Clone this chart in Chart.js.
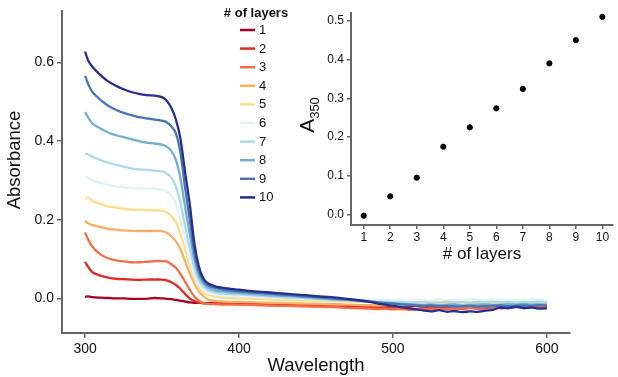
<!DOCTYPE html>
<html>
<head>
<meta charset="utf-8">
<script src="https://cdn.jsdelivr.net/npm/chart.js@4"></script>
<style>
  body { margin: 0; background: #fff; }
  #wrap { position: relative; width: 618px; height: 377px; }
  #main { position: absolute; left: 0; top: 0; }
  #inset { position: absolute; left: 290px; top: 0; }
</style>
</head>
<body>
<div id="wrap">
  <canvas id="main" width="618" height="377"></canvas>
  <canvas id="inset" width="328" height="270"></canvas>
</div>
<script>
// wavelengths (nm)
const wavelengths = [300,302,305,310,315,320,325,330,335,340,345,350,353,356,359,362,365,368,371,374,377,380,385,390,395,400,
  410,420,430,440,450,460,470,480,
  485,490,495,500,505,510,515,520,525,530,535,540,545,550,555,560,565,570,575,580,585,590,595,600];

// absorbance spectra, one per number of layers
const layer1 = [0.004,0.005,0.003,0.002,0.001,0.000,0.000,-0.001,-0.001,-0.001,0.001,0.000,-0.001,-0.002,-0.004,-0.006,-0.008,-0.010,-0.011,-0.011,-0.012,-0.012,-0.012,-0.013,-0.013,-0.013,
  -0.014,-0.014,-0.015,-0.015,-0.016,-0.016,-0.017,-0.018,
  -0.018,-0.019,-0.018,-0.020,-0.019,-0.020,-0.019,-0.021,-0.020,-0.019,-0.021,-0.020,-0.019,-0.020,-0.021,-0.019,-0.020,-0.019,-0.021,-0.020,-0.019,-0.020,-0.021,-0.020];
const layer2 = [0.093,0.080,0.066,0.058,0.053,0.050,0.049,0.048,0.047,0.048,0.048,0.048,0.046,0.041,0.034,0.024,0.011,0.000,-0.007,-0.011,-0.012,-0.013,-0.013,-0.014,-0.014,-0.015,
  -0.016,-0.017,-0.018,-0.019,-0.020,-0.021,-0.022,-0.023,
  -0.024,-0.025,-0.024,-0.026,-0.025,-0.026,-0.027,-0.025,-0.026,-0.024,-0.026,-0.025,-0.027,-0.024,-0.026,-0.025,-0.023,-0.025,-0.024,-0.022,-0.024,-0.023,-0.022,-0.023];
const layer3 = [0.168,0.150,0.130,0.112,0.102,0.097,0.094,0.092,0.092,0.093,0.095,0.095,0.094,0.087,0.078,0.062,0.042,0.022,0.005,-0.006,-0.012,-0.014,-0.015,-0.016,-0.016,-0.016,
  -0.017,-0.018,-0.019,-0.020,-0.021,-0.022,-0.024,-0.025,
  -0.026,-0.027,-0.026,-0.028,-0.027,-0.029,-0.028,-0.027,-0.028,-0.026,-0.027,-0.025,-0.026,-0.024,-0.025,-0.023,-0.024,-0.022,-0.023,-0.021,-0.022,-0.020,-0.021,-0.020];
const layer4 = [0.197,0.191,0.186,0.182,0.177,0.175,0.173,0.172,0.171,0.171,0.172,0.171,0.167,0.158,0.145,0.124,0.094,0.064,0.038,0.017,0.005,-0.003,-0.007,-0.008,-0.009,-0.009,
  -0.010,-0.011,-0.012,-0.013,-0.014,-0.015,-0.016,-0.017,
  -0.017,-0.018,-0.017,-0.019,-0.018,-0.017,-0.016,-0.015,-0.014,-0.013,-0.012,-0.013,-0.011,-0.012,-0.010,-0.011,-0.012,-0.010,-0.011,-0.009,-0.012,-0.010,-0.011,-0.010];
const layer5 = [0.252,0.256,0.247,0.240,0.234,0.231,0.228,0.226,0.225,0.225,0.224,0.223,0.219,0.210,0.194,0.164,0.124,0.084,0.049,0.027,0.014,0.008,0.004,0.002,0.001,0.000,
  -0.001,-0.003,-0.004,-0.005,-0.006,-0.007,-0.008,-0.009,
  -0.009,-0.010,-0.009,-0.011,-0.010,-0.009,-0.011,-0.010,-0.009,-0.011,-0.010,-0.009,-0.011,-0.010,-0.008,-0.010,-0.011,-0.009,-0.010,-0.008,-0.011,-0.009,-0.010,-0.009];
const layer6 = [0.310,0.306,0.300,0.294,0.289,0.285,0.283,0.281,0.280,0.279,0.279,0.276,0.272,0.262,0.240,0.200,0.150,0.100,0.060,0.034,0.021,0.015,0.010,0.008,0.007,0.006,
  0.004,0.002,0.001,-0.001,-0.002,-0.003,-0.004,-0.004,
  -0.003,-0.005,-0.002,-0.006,-0.003,-0.005,-0.002,-0.004,-0.006,-0.002,-0.005,-0.003,-0.006,-0.002,-0.004,-0.005,-0.002,-0.004,-0.006,-0.003,-0.005,-0.002,-0.004,-0.005];
const layer7 = [0.369,0.366,0.360,0.352,0.345,0.340,0.335,0.331,0.328,0.327,0.325,0.323,0.318,0.307,0.284,0.243,0.183,0.128,0.078,0.045,0.029,0.021,0.015,0.012,0.011,0.010,
  0.008,0.005,0.003,0.001,-0.001,-0.003,-0.005,-0.006,
  -0.007,-0.009,-0.008,-0.010,-0.009,-0.011,-0.010,-0.009,-0.011,-0.010,-0.008,-0.010,-0.009,-0.011,-0.009,-0.010,-0.008,-0.010,-0.009,-0.011,-0.009,-0.010,-0.008,-0.010];
const layer8 = [0.474,0.460,0.444,0.432,0.422,0.415,0.410,0.405,0.400,0.396,0.394,0.391,0.386,0.375,0.352,0.305,0.232,0.163,0.098,0.057,0.037,0.027,0.020,0.017,0.015,0.014,
  0.011,0.008,0.006,0.004,0.001,-0.002,-0.004,-0.007,
  -0.008,-0.010,-0.011,-0.013,-0.014,-0.015,-0.016,-0.017,-0.016,-0.018,-0.017,-0.016,-0.018,-0.017,-0.016,-0.015,-0.017,-0.016,-0.015,-0.016,-0.014,-0.016,-0.015,-0.016];
const layer9 = [0.566,0.545,0.524,0.505,0.490,0.480,0.472,0.466,0.461,0.458,0.455,0.452,0.448,0.438,0.420,0.370,0.280,0.200,0.115,0.068,0.044,0.033,0.026,0.022,0.020,0.018,
  0.015,0.012,0.009,0.006,0.003,0.000,-0.003,-0.006,
  -0.008,-0.010,-0.012,-0.013,-0.015,-0.016,-0.018,-0.019,-0.018,-0.020,-0.019,-0.021,-0.020,-0.019,-0.021,-0.020,-0.019,-0.018,-0.020,-0.019,-0.018,-0.019,-0.017,-0.018];
const layer10 = [0.628,0.605,0.588,0.568,0.552,0.541,0.532,0.525,0.520,0.517,0.516,0.512,0.503,0.485,0.455,0.405,0.320,0.240,0.140,0.080,0.050,0.038,0.030,0.027,0.024,0.022,
  0.018,0.015,0.012,0.009,0.006,0.003,-0.001,-0.006,
  -0.009,-0.013,-0.016,-0.019,-0.022,-0.025,-0.028,-0.031,-0.033,-0.030,-0.034,-0.032,-0.035,-0.033,-0.034,-0.031,-0.029,-0.023,-0.025,-0.021,-0.025,-0.023,-0.026,-0.025];

const layerNames = ["1","2","3","4","5","6","7","8","9","10"];
const layerColors = ["#a50026","#dd2a22","#f46d43","#fdae61","#fedf88","#e0f3f8","#abd9e9","#74add1","#4575b4","#262f8e"];
const spectra = [layer1, layer2, layer3, layer4, layer5, layer6, layer7, layer8, layer9, layer10];

const mainXTicks = [300, 400, 500, 600];
const mainYTicks = [0.0, 0.2, 0.4, 0.6];

// inset: absorbance at 350 nm vs number of layers
const insetLayers = [1,2,3,4,5,6,7,8,9,10];
const a350 = [-0.003,0.047,0.095,0.175,0.225,0.274,0.324,0.390,0.450,0.510];
const insetXTicks = [1,2,3,4,5,6,7,8,9,10];
const insetYTicks = [0.0,0.1,0.2,0.3,0.4,0.5];

const FONT = "'Liberation Sans', Arial, Helvetica, sans-serif";
const AXIS = "#666";
Chart.defaults.font.family = FONT;
Chart.defaults.color = "#111";

function fixTicks(list) {
  return (scale) => { scale.ticks = list.map(v => ({ value: v })); };
}

// legend inside the plot plus the two axis titles
const mainDecor = {
  id: "mainDecor",
  afterDraw(chart) {
    const ctx = chart.ctx;
    ctx.save();
    ctx.fillStyle = "#111";
    ctx.font = "bold 13px " + FONT;
    ctx.textAlign = "center";
    ctx.textBaseline = "middle";
    ctx.fillText("# of layers", 256, 13);
    ctx.font = "13px " + FONT;
    ctx.textAlign = "left";
    chart.data.datasets.forEach((ds, i) => {
      const y = 30 + i * 18.6;
      ctx.strokeStyle = ds.borderColor;
      ctx.lineWidth = 2.5;
      ctx.beginPath();
      ctx.moveTo(240, y);
      ctx.lineTo(255, y);
      ctx.stroke();
      ctx.fillText(ds.label, 259, y + 0.5);
    });

    ctx.font = "18.5px " + FONT;
    ctx.textAlign = "center";
    ctx.textBaseline = "alphabetic";
    ctx.fillText("Wavelength", 316, 371);

    ctx.translate(15, 160);
    ctx.rotate(-Math.PI / 2);
    ctx.textBaseline = "middle";
    ctx.fillText("Absorbance", 0, 0);
    ctx.restore();
  }
};

new Chart(document.getElementById("main"), {
  type: "line",
  data: {
    datasets: spectra.map((vals, i) => ({
      label: layerNames[i],
      data: vals.map((v, j) => ({ x: wavelengths[j], y: v })),
      borderColor: layerColors[i],
      borderWidth: 2.3,
      pointRadius: 0,
      tension: 0.2,
      order: spectra.length - 1 - i
    }))
  },
  options: {
    responsive: false,
    animation: false,
    layout: { padding: { left: 0, right: 48, top: 8, bottom: 0 } },
    plugins: { legend: { display: false }, tooltip: { enabled: false } },
    scales: {
      x: {
        type: "linear", min: 285, max: 615,
        afterBuildTicks: fixTicks(mainXTicks),
        afterFit(scale) { scale.height = 44; },
        border: { display: true, color: AXIS, width: 2 },
        grid: { display: true, drawOnChartArea: false, drawTicks: true, tickLength: 5, color: AXIS, lineWidth: 1.5 },
        ticks: { font: { size: 14 }, padding: 3, maxRotation: 0 }
      },
      y: {
        type: "linear", min: -0.088, max: 0.73,
        afterBuildTicks: fixTicks(mainYTicks),
        afterFit(scale) { scale.width = 62; },
        border: { display: true, color: AXIS, width: 2 },
        grid: { display: true, drawOnChartArea: false, drawTicks: true, tickLength: 5, color: AXIS, lineWidth: 1.5 },
        ticks: { font: { size: 14 }, padding: 3, callback: v => v.toFixed(1) }
      }
    }
  },
  plugins: [mainDecor]
});

// subscripted y title for the inset
const a350Title = {
  id: "a350Title",
  afterDraw(chart) {
    const ctx = chart.ctx;
    const cy = (chart.chartArea.top + chart.chartArea.bottom) / 2 - 4;
    ctx.save();
    ctx.translate(24, cy);
    ctx.rotate(-Math.PI / 2);
    ctx.fillStyle = "#111";
    ctx.textBaseline = "alphabetic";
    ctx.font = "21px " + FONT;
    const wA = ctx.measureText("A").width;
    ctx.font = "13px " + FONT;
    const wS = ctx.measureText("350").width;
    const x0 = -(wA + wS) / 2;
    ctx.font = "21px " + FONT;
    ctx.fillText("A", x0, 0);
    ctx.font = "13px " + FONT;
    ctx.fillText("350", x0 + wA, 5);
    ctx.restore();
  }
};

new Chart(document.getElementById("inset"), {
  type: "scatter",
  data: {
    datasets: [{
      data: insetLayers.map((n, i) => ({ x: n, y: a350[i] })),
      backgroundColor: "#000",
      borderColor: "#000",
      pointRadius: 2.6
    }]
  },
  options: {
    responsive: false,
    animation: false,
    layout: { padding: { left: 0, right: 1, top: 13, bottom: 0 } },
    plugins: { legend: { display: false }, tooltip: { enabled: false } },
    scales: {
      x: {
        type: "linear", min: 0.52, max: 10.4,
        afterBuildTicks: fixTicks(insetXTicks),
        afterFit(scale) { scale.height = 45; },
        border: { display: true, color: AXIS, width: 2 },
        grid: { display: true, drawOnChartArea: false, drawTicks: true, tickLength: 4, color: AXIS, lineWidth: 1.5 },
        ticks: { font: { size: 12 }, padding: 1, maxRotation: 0 },
        title: { display: true, text: "# of layers", font: { size: 17 }, padding: { top: 0, bottom: 5 } }
      },
      y: {
        type: "linear", min: -0.027, max: 0.52,
        afterBuildTicks: fixTicks(insetYTicks),
        afterFit(scale) { scale.width = 61; },
        border: { display: true, color: AXIS, width: 2 },
        grid: { display: true, drawOnChartArea: false, drawTicks: true, tickLength: 4, color: AXIS, lineWidth: 1.5 },
        ticks: { font: { size: 12 }, padding: 3, callback: v => v.toFixed(1) }
      }
    }
  },
  plugins: [a350Title]
});
</script>
</body>
</html>
